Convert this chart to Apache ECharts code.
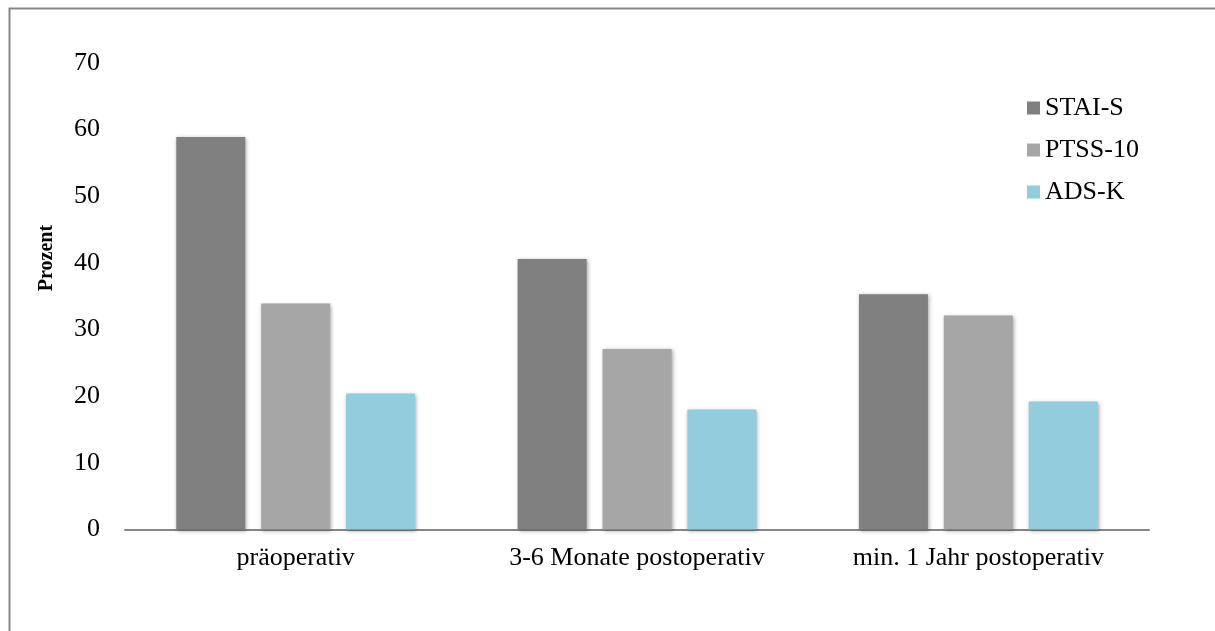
<!DOCTYPE html>
<html>
<head>
<meta charset="utf-8">
<script src="https://cdn.jsdelivr.net/npm/echarts@6/dist/echarts.min.js"></script>
<style>
  html, body { margin: 0; padding: 0; background: #ffffff; }
  #chart { width: 1215px; height: 631px; }
</style>
</head>
<body>
<div id="chart"></div>
<script>
// Zeitpunkte der Erhebung
const categories = ['präoperativ', '3-6 Monate postoperativ', 'min. 1 Jahr postoperativ'];

// Anteil auffälliger Werte (Prozent) je Fragebogen
const staiS  = [58.9, 40.6, 35.3];
const ptss10 = [33.9, 27.1, 32.1];
const adsK   = [20.4, 18.0, 19.2];

const yTicks = [0, 10, 20, 30, 40, 50, 60, 70];

const serif = '"Liberation Serif", "Times New Roman", serif';
const axisGrey = '#868686';

const barShadow = {
  shadowBlur: 4,
  shadowColor: 'rgba(0,0,0,0.35)',
  shadowOffsetX: 1,
  shadowOffsetY: 1
};

function barSeries(name, data, color) {
  return {
    name: name,
    type: 'bar',
    data: data,
    barWidth: 69,
    barGap: '23%',
    itemStyle: Object.assign({ color: color }, barShadow)
  };
}

const chart = echarts.init(document.getElementById('chart'), null, { renderer: 'canvas' });

chart.setOption({
  backgroundColor: '#ffffff',
  animation: false,
  grid: { left: 125, right: 66, top: 63, bottom: 101.5, containLabel: false },
  legend: {
    orient: 'vertical',
    left: 1027,
    top: 95,
    padding: 0,
    itemWidth: 13,
    itemHeight: 13,
    itemGap: 16,
    icon: 'rect',
    textStyle: { fontFamily: serif, fontSize: 26, color: '#000000', lineHeight: 26 },
    data: ['STAI-S', 'PTSS-10', 'ADS-K']
  },
  xAxis: {
    type: 'category',
    data: categories,
    axisLine: { show: true, lineStyle: { color: axisGrey, width: 2 } },
    axisTick: { show: false },
    axisLabel: { fontFamily: serif, fontSize: 26, color: '#000000', margin: 16 }
  },
  yAxis: {
    type: 'value',
    min: yTicks[0],
    max: yTicks[yTicks.length - 1],
    interval: 10,
    axisLine: { show: false },
    axisTick: { show: false },
    splitLine: { show: false },
    axisLabel: { fontFamily: serif, fontSize: 26, color: '#000000', margin: 25 }
  },
  graphic: [
    {
      type: 'rect',
      silent: true,
      shape: { x: 9.5, y: 8.5, width: 1300, height: 700 },
      style: { fill: 'none', stroke: axisGrey, lineWidth: 2 }
    },
    {
      type: 'text',
      silent: true,
      x: 47,
      y: 258,
      rotation: Math.PI / 2,
      style: {
        text: 'Prozent',
        fontFamily: serif,
        fontWeight: 'bold',
        fontSize: 20,
        fill: '#000000',
        align: 'center',
        verticalAlign: 'middle'
      }
    }
  ],
  series: [
    barSeries('STAI-S', staiS, '#808080'),
    barSeries('PTSS-10', ptss10, '#a6a6a6'),
    barSeries('ADS-K', adsK, '#93cddd')
  ]
});
</script>
</body>
</html>
